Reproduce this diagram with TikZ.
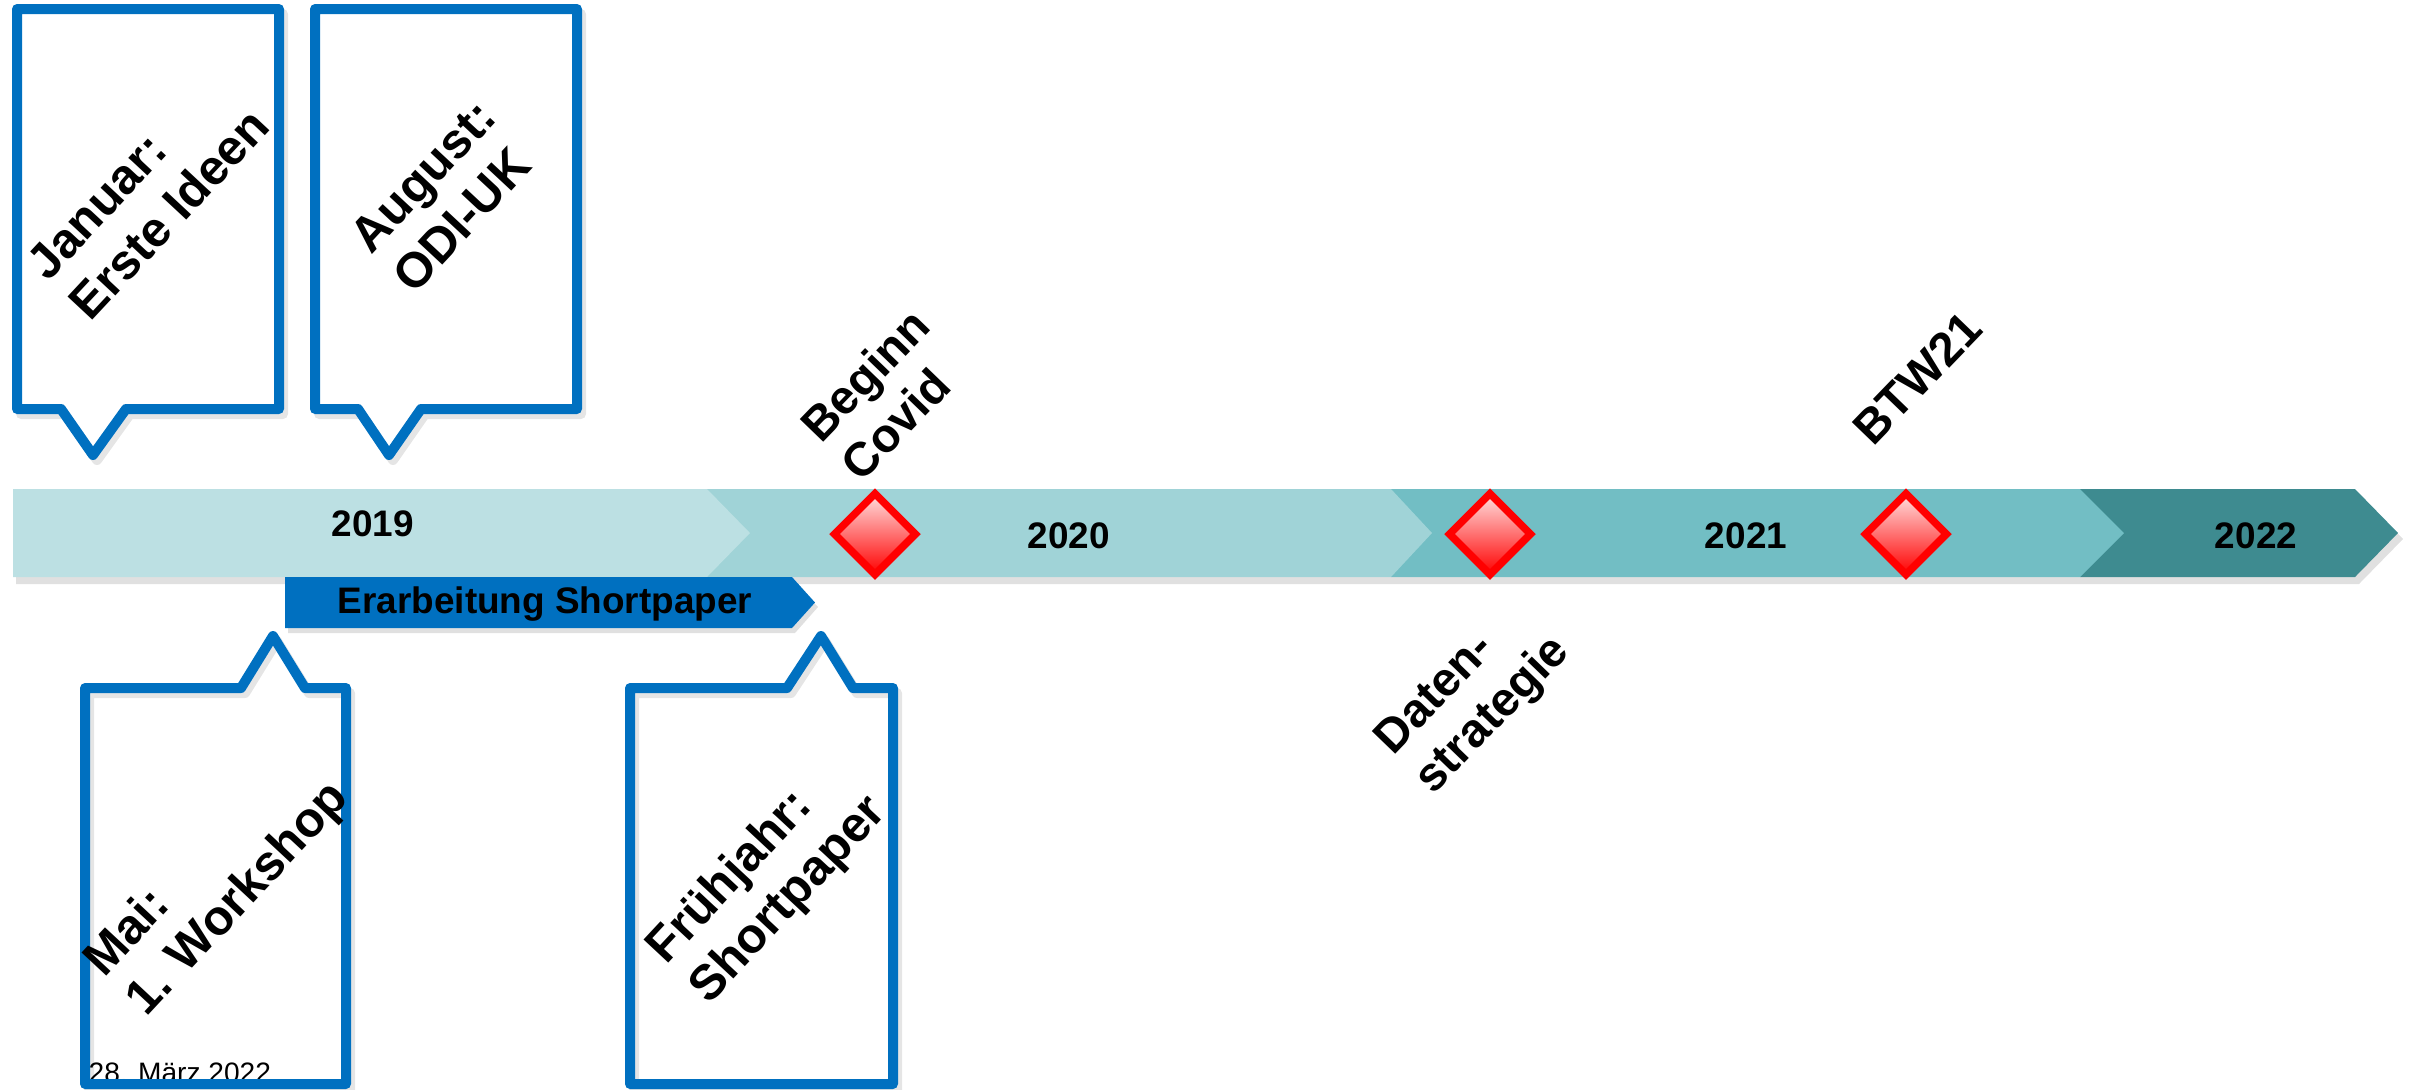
\documentclass[tikz,border=0pt]{standalone}
\usepackage{fontspec}
\setmainfont{Liberation Sans}
\usetikzlibrary{shapes.geometric}
\definecolor{sega}{HTML}{BCE0E3}
\definecolor{segb}{HTML}{A0D3D7}
\definecolor{segc}{HTML}{72BEC4}
\definecolor{segd}{HTML}{3E8B90}
\definecolor{blau}{HTML}{0070C0}
\begin{document}
\begin{tikzpicture}[x=0.1mm,y=-0.1mm,
  callout/.style={draw=blau, line width=1mm, line join=round, fill=white},
  calshadow/.style={draw=black, line width=1mm, line join=round, opacity=0.10},
  evtlabel/.style={font=\fontsize{13.5}{16}\selectfont\bfseries, align=left, rotate=46, inner sep=0pt},
  boxlabel/.style={font=\fontsize{14}{16.5}\selectfont\bfseries, align=left, rotate=47, inner sep=0pt},
  yearlabel/.style={font=\fontsize{10.5}{12}\selectfont\bfseries, inner sep=0pt},
  milestone/.style={shape=diamond, draw=red, line width=0.75mm, top color=red!12, bottom color=red, minimum width=8.4mm, minimum height=8.4mm, inner sep=0pt},
  barshadow/.style={fill=black, opacity=0.12}
]
\useasboundingbox (0,0) rectangle (2410,1089);

% top callouts
\draw[calshadow] (21,14) -- (283,14) -- (283,414) -- (130,414) -- (97,460) -- (65,414) -- (21,414) -- cycle;
\path[callout] (17,9) -- (279,9) -- (279,409) -- (126,409) -- (93,455) -- (61,409) -- (17,409) -- cycle;
\draw[calshadow] (319,14) -- (581,14) -- (581,414) -- (425,414) -- (393,460) -- (362,414) -- (319,414) -- cycle;
\path[callout] (315,9) -- (577,9) -- (577,409) -- (421,409) -- (389,455) -- (358,409) -- (315,409) -- cycle;
\node[boxlabel] (jan) at (148,194) {Januar:\\Erste Ideen};
\node[boxlabel] (aug) at (444,196) {August:\\ODI-UK};

% timeline
\fill[barshadow] (16,495) -- (2359,495) -- (2403,539) -- (2359,584) -- (16,584) -- cycle;
\fill[segd] (2080,489) -- (2355,489) -- (2398,533) -- (2355,577) -- (2080,577) -- cycle;
\fill[segc] (1391,489) -- (2080,489) -- (2124,533) -- (2080,577) -- (1391,577) -- cycle;
\fill[segb] (707,489) -- (1391,489) -- (1432,533) -- (1391,577) -- (707,577) -- cycle;
\fill[sega] (13,489) -- (707,489) -- (750,533) -- (707,577) -- (13,577) -- cycle;
\node[yearlabel] (y19) at (373,524) {2019};
\node[yearlabel] (y20) at (1069,536) {2020};
\node[yearlabel] (y21) at (1746,536) {2021};
\node[yearlabel] (y22) at (2256,536) {2022};

% Erarbeitung Shortpaper
\fill[barshadow] (288,582) -- (795,582) -- (818,607) -- (795,633) -- (288,633) -- cycle;
\fill[blau] (285,577) -- (792,577) -- (815,602.5) -- (792,628) -- (285,628) -- cycle;
\node[yearlabel] (esp) at (545,604) {Erarbeitung Shortpaper};

% milestones
\node[milestone] (covid) at (875,534) {};
\node[milestone] (daten) at (1490,534) {};
\node[milestone] (btw) at (1906,534) {};
\node[evtlabel] (covlab) at (885,394) {Beginn\\Covid};
\node[evtlabel] (btwlab) at (1917,378) {BTW21};
\node[evtlabel] (datlab) at (1474,697) {Daten-\\strategie};

% date
\node[font=\fontsize{8}{9}\selectfont, inner sep=0pt, anchor=base west] (datum) at (88,1082) {28. März 2022};

% bottom callouts
\draw[calshadow] (89,693) -- (245,693) -- (277,641) -- (309,693) -- (350,693) -- (350,1090) -- (89,1090) -- cycle;
\draw[callout, fill=none] (85,688) -- (241,688) -- (273,636) -- (305,688) -- (346,688) -- (346,1084) -- (85,1084) -- cycle;
\draw[calshadow] (634,693) -- (791,693) -- (825,641) -- (857,693) -- (897,693) -- (897,1090) -- (634,1090) -- cycle;
\draw[callout, fill=none] (630,688) -- (787,688) -- (821,636) -- (853,688) -- (893,688) -- (893,1084) -- (630,1084) -- cycle;
\node[boxlabel] (mai) at (218,880) {Mai:\\1. Workshop};
\node[boxlabel] (fru) at (768,881) {Frühjahr:\\Shortpaper};
\end{tikzpicture}
\end{document}
